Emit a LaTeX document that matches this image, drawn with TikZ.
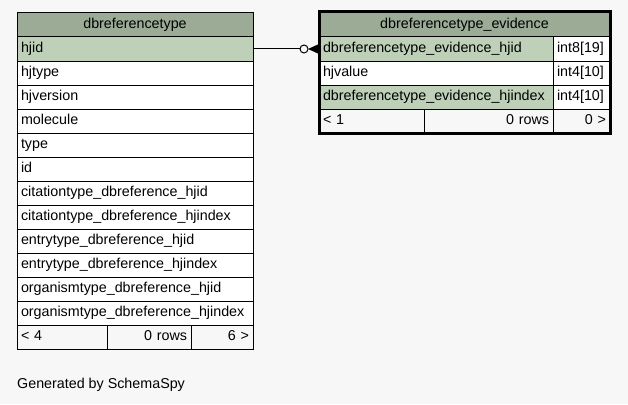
\documentclass[tikz,border=0pt]{standalone}
\usepackage{fontspec}
\setmainfont{Liberation Sans}
\definecolor{bg}{HTML}{F7F7F7}
\definecolor{hdrgreen}{HTML}{9BAB96}
\definecolor{keygreen}{HTML}{BED1B8}
\tikzset{
  cell/.style={draw=black, line width=1pt, outer sep=0pt, inner xsep=4pt, inner ysep=0pt,
    minimum height=24pt, text height=11pt, text depth=3.5pt, anchor=north west, fill=white,
    font=\fontsize{14.3}{16}\selectfont, align=left},
  keycell/.style={cell, fill=keygreen},
  hdrcell/.style={cell, fill=hdrgreen, align=center},
  footcell/.style={cell, fill=bg},
  conn/.style={draw=black, line width=1pt},
}
\begin{document}
\begin{tikzpicture}[x=1pt,y=-1pt]
\useasboundingbox (0,0) rectangle (628,404);
\fill[bg] (0,0) rectangle (628,404);
% left table
\node[hdrcell, text width=228pt] (lhdr) at (17,13) {dbreferencetype};
\node[keycell, text width=228pt] (lhjid) at (17,37) {hjid};
\node[cell, text width=228pt] (l2) at (17,61) {hjtype};
\node[cell, text width=228pt] (l3) at (17,85) {hjversion};
\node[cell, text width=228pt] (l4) at (17,109) {molecule};
\node[cell, text width=228pt] (l5) at (17,133) {type};
\node[cell, text width=228pt] (l6) at (17,157) {id};
\node[cell, text width=228pt] (l7) at (17,181) {citationtype\_dbreference\_hjid};
\node[cell, text width=228pt] (l8) at (17,205) {citationtype\_dbreference\_hjindex};
\node[cell, text width=228pt] (l9) at (17,229) {entrytype\_dbreference\_hjid};
\node[cell, text width=228pt] (l10) at (17,253) {entrytype\_dbreference\_hjindex};
\node[cell, text width=228pt] (l11) at (17,277) {organismtype\_dbreference\_hjid};
\node[cell, text width=228pt] (l12) at (17,301) {organismtype\_dbreference\_hjindex};
\node[footcell, text width=82pt] (lf1) at (17,325) {< 4};
\node[footcell, text width=76pt, align=right] (lf2) at (107,325) {0 rows};
\node[footcell, text width=54pt, align=right] (lf3) at (191,325) {6 >};
% right table
\node[hdrcell, text width=283pt, minimum height=25pt] (rhdr) at (319,12) {dbreferencetype\_evidence};
\node[keycell, text width=226pt] (rk1) at (319,37) {dbreferencetype\_evidence\_hjid};
\node[cell, text width=49pt] (rt1) at (553,37) {int8[19]};
\node[cell, text width=226pt] (rk2) at (319,61) {hjvalue};
\node[cell, text width=49pt] (rt2) at (553,61) {int4[10]};
\node[keycell, text width=226pt] (rk3) at (319,85) {dbreferencetype\_evidence\_hjindex};
\node[cell, text width=49pt] (rt3) at (553,85) {int4[10]};
\node[footcell, text width=97pt] (rf1) at (319,109) {< 1};
\node[footcell, text width=121pt, align=right] (rf2) at (424,109) {0 rows};
\node[footcell, text width=49pt, align=right] (rf3) at (553,109) {0 >};
\draw[line width=3pt] (rhdr.north west) rectangle (rf3.south east);
% connector
\draw[conn] (lhjid.east) -- ([xshift=-19pt]rk1.west);
\draw[conn, fill=bg] ([xshift=-15pt]rk1.west) circle (4pt);
\fill[black] ([xshift=-11pt]rk1.west) -- ([yshift=5pt]rk1.west) -- ([yshift=-5pt]rk1.west) -- cycle;
% footer text
\node[anchor=base west, inner sep=0pt, font=\fontsize{14.3}{16}\selectfont] (gen) at (17,388) {Generated by SchemaSpy};
\end{tikzpicture}
\end{document}
